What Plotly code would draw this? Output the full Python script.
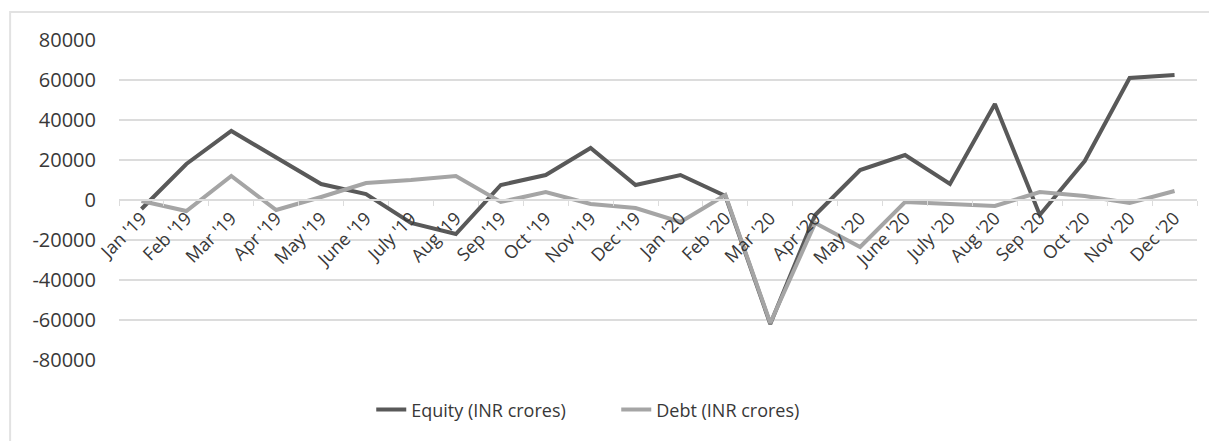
import plotly.graph_objects as go

months = ["Jan '19", "Feb '19", "Mar '19", "Apr '19", "May '19", "June '19", "July '19", "Aug '19",
          "Sep '19", "Oct '19", "Nov '19", "Dec '19", "Jan '20", "Feb '20", "Mar '20", "Apr '20",
          "May '20", "June '20", "July '20", "Aug '20", "Sep '20", "Oct '20", "Nov '20", "Dec '20"]
equity = [-4500, 18000, 34500, 21500, 8000, 3000, -11500, -17000, 7500, 12500, 26000, 7500,
          12500, 2000, -62000, -7500, 15000, 22500, 8000, 48000, -7500, 19500, 61000, 62500]
debt = [-500, -5500, 12000, -5000, 1500, 8500, 10000, 12000, -1000, 4000, -2000, -4000,
        -11000, 2500, -61500, -11500, -23500, -1000, -2000, -3000, 4000, 2000, -1500, 4500]
yticks = [-80000, -60000, -40000, -20000, 0, 20000, 40000, 60000, 80000]

TXT = "#383838"
GRID = "#DCDCDC"

fig = go.Figure()
fig.add_trace(go.Scatter(x=months, y=equity, mode="lines", name="Equity (INR crores)",
                         line=dict(color="#595959", width=4)))
fig.add_trace(go.Scatter(x=months, y=debt, mode="lines", name="Debt (INR crores)",
                         line=dict(color="#A5A5A5", width=4)))

fig.update_layout(
    width=1209, height=433,
    margin=dict(l=111, r=20, t=32, b=81, autoexpand=False),
    paper_bgcolor="white", plot_bgcolor="white",
    font=dict(family="Open Sans", color=TXT),
    showlegend=True,
    legend=dict(orientation="h", x=0.234, xanchor="left", y=-0.156, yanchor="middle",
                entrywidth=200, font=dict(size=18, color=TXT), bgcolor="rgba(0,0,0,0)"),
    xaxis=dict(type="category", range=[-0.5, 23.5], anchor="free", position=0.5, showgrid=False,
               showline=True, linecolor=GRID, linewidth=1.5,
               ticks="outside", tickson="boundaries", ticklen=5, tickcolor=GRID,
               tickangle=-45, tickfont=dict(size=18, color=TXT), zeroline=False),
    yaxis=dict(range=[-80000, 80000], tickvals=yticks, ticktext=[str(v) for v in yticks],
               showgrid=True, gridcolor=GRID, gridwidth=1.5, zeroline=False,
               showline=False, ticks="", ticklabelstandoff=22,
               tickfont=dict(size=20, color=TXT)),
    shapes=[dict(type="rect", xref="paper", yref="paper", x0=-0.101, x1=1.2, y0=1.0875, y1=-0.4,
                 line=dict(color="#E2E2E2", width=2), layer="below")],
)

fig.write_html("out.html")
